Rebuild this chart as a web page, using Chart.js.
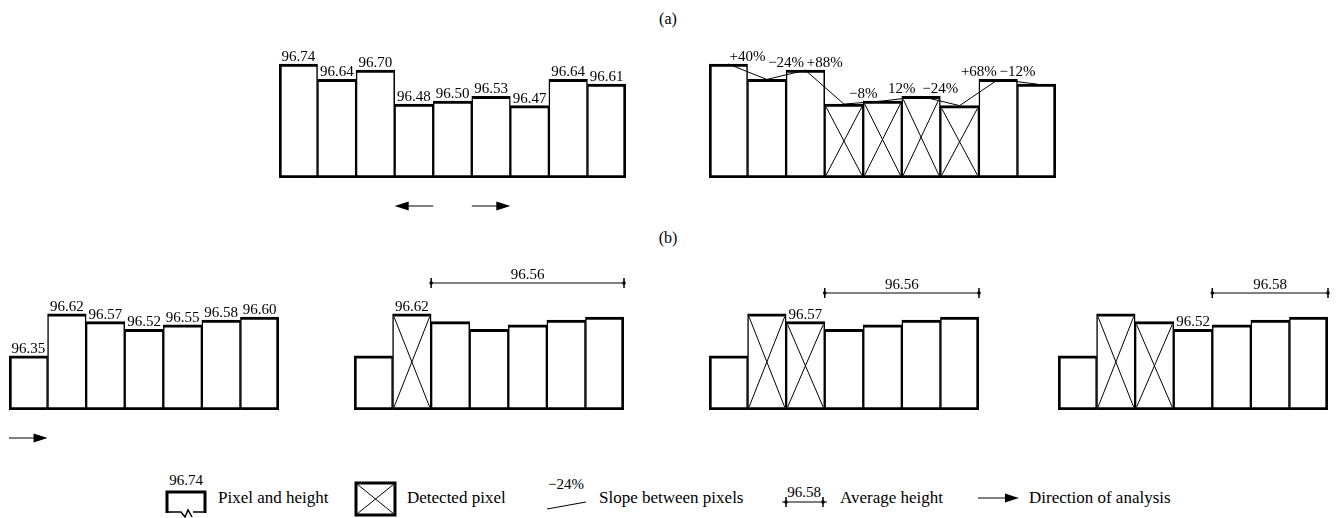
<!DOCTYPE html>
<html>
<head>
<meta charset="utf-8">
<script src="https://cdn.jsdelivr.net/npm/chart.js@4.4.0/dist/chart.umd.min.js"></script>
<style>
  html, body { margin: 0; padding: 0; background: #fff; }
  body { width: 1338px; height: 518px; position: relative; overflow: hidden; font-family: 'Liberation Serif', 'DejaVu Serif', serif; }
  canvas { position: absolute; }
  #deco { position: absolute; left: 0; top: 0; }
  #deco text { font-family: 'Liberation Serif', 'DejaVu Serif', serif; fill: #000; }
</style>
</head>
<body>
<svg id="deco" width="1338" height="518">
  <text x="668" y="24" text-anchor="middle" font-size="16">(a)</text>
  <text x="668" y="243" text-anchor="middle" font-size="16">(b)</text>

  <!-- legend -->
  <text x="186" y="485" text-anchor="middle" font-size="15">96.74</text>
  <path d="M167,513 L167,492 L205,492 L205,513" fill="none" stroke="#000" stroke-width="3"/>
  <path d="M167,512 L181,512 L185,517 L188,510 L192,517 M193,512 L205,512" fill="none" stroke="#000" stroke-width="1.5"/>
  <text x="218" y="503" font-size="17">Pixel and height</text>

  <rect x="356" y="483" width="39" height="32" fill="none" stroke="#000" stroke-width="3"/>
  <path d="M357,484 L394,514 M394,484 L357,514" stroke="#000" stroke-width="1"/>
  <text x="407" y="503" font-size="17">Detected pixel</text>

  <text x="566" y="489" text-anchor="middle" font-size="15">&#8722;24%</text>
  <path d="M547,509 L586,502" stroke="#000" stroke-width="1"/>
  <text x="599" y="503" font-size="17">Slope between pixels</text>

  <text x="804" y="497" text-anchor="middle" font-size="15">96.58</text>
  <path d="M782,502 L827,502" stroke="#000" stroke-width="1"/>
  <path d="M786,497 L786,507 M823,497 L823,507" stroke="#000" stroke-width="1.5"/>
  <circle cx="786" cy="502" r="1.8" fill="#000"/>
  <circle cx="823" cy="502" r="1.8" fill="#000"/>
  <text x="840" y="503" font-size="17">Average height</text>

  <path d="M978,498 L1006,498" stroke="#000" stroke-width="1"/>
  <path d="M1019,498 L1005,493.5 L1005,502.5 Z" fill="#000"/>
  <text x="1029" y="503" font-size="17">Direction of analysis</text>
</svg>
<script>
// (a) nine pixels along the profile
const pixelsA = ['1', '2', '3', '4', '5', '6', '7', '8', '9'];
const heightsA = [96.74, 96.64, 96.70, 96.48, 96.50, 96.53, 96.47, 96.64, 96.61];
const slopesA = ['+40%', '\u221224%', '+88%', '\u22128%', '12%', '\u221224%', '+68%', '\u221212%'];
const detectedA = [3, 4, 5, 6];

// (b) seven pixels, four analysis steps
const pixelsB = ['1', '2', '3', '4', '5', '6', '7'];
const heightsB = [96.35, 96.62, 96.57, 96.52, 96.55, 96.58, 96.60];
const detectedB = [[], [1], [1, 2], [1, 2]];
const currentB = [null, 1, 2, 3];
const averagesB = [null, 96.56, 96.56, 96.58];
const averageFromB = [null, 2, 3, 4];

const Y_MIN = 96.0;
const BAR_W = 38.5;
const FONT = '15px "Liberation Serif", "DejaVu Serif", serif';

function drawArrow(ctx, x1, x2, y) {
  const d = Math.sign(x2 - x1);
  ctx.lineWidth = 1;
  ctx.beginPath(); ctx.moveTo(x1, y); ctx.lineTo(x2 - d * 12, y); ctx.stroke();
  ctx.beginPath();
  ctx.moveTo(x2, y); ctx.lineTo(x2 - d * 14, y - 4.5); ctx.lineTo(x2 - d * 14, y + 4.5);
  ctx.closePath(); ctx.fill();
}

// extra marks: crosses, value / slope labels, average line, arrows
function sketch(cfg) {
  return {
    id: 'sketch',
    afterDatasetsDraw(chart) {
      const ctx = chart.ctx;
      const bars = chart.getDatasetMeta(0).data;
      const vals = chart.data.datasets[0].data;
      const area = chart.chartArea;
      ctx.save();
      ctx.strokeStyle = '#000';
      ctx.fillStyle = '#000';

      ctx.lineWidth = 1;
      (cfg.detected || []).forEach(i => {
        const b = bars[i];
        const l = b.x - b.width / 2 + 1.5, r = b.x + b.width / 2 - 1.5;
        const t = b.y + 3, bt = b.base - 3;
        ctx.beginPath();
        ctx.moveTo(l, t); ctx.lineTo(r, bt);
        ctx.moveTo(r, t); ctx.lineTo(l, bt);
        ctx.stroke();
      });

      ctx.font = FONT;
      ctx.textAlign = 'center';
      ctx.textBaseline = 'alphabetic';
      (cfg.labelled || []).forEach(i => {
        ctx.fillText(vals[i].toFixed(2), bars[i].x, bars[i].y - 3);
      });
      (cfg.slopes || []).forEach((s, i) => {
        const x = (bars[i].x + bars[i + 1].x) / 2;
        const y = Math.min(bars[i].y, bars[i + 1].y) - 3;
        ctx.fillText(s, x, y);
      });

      if (cfg.avg != null) {
        const a = bars[cfg.avgFrom], z = bars[bars.length - 1];
        const x1 = a.x - a.width / 2, x2 = z.x + z.width / 2;
        const y = area.top + cfg.avgOffset;
        ctx.lineWidth = 1;
        ctx.beginPath(); ctx.moveTo(x1, y); ctx.lineTo(x2, y); ctx.stroke();
        ctx.lineWidth = 1.5;
        [x1, x2].forEach(x => {
          ctx.beginPath(); ctx.moveTo(x, y - 5); ctx.lineTo(x, y + 5); ctx.stroke();
          ctx.beginPath(); ctx.arc(x, y, 1.8, 0, Math.PI * 2); ctx.fill();
        });
        ctx.fillText(cfg.avg.toFixed(2), (x1 + x2) / 2, y - 4);
      }

      (cfg.arrows || []).forEach(ar => {
        const b = bars[ar.index];
        const l = b.x - b.width / 2, r = b.x + b.width / 2;
        const y = area.bottom + 28;
        if (ar.dir < 0) drawArrow(ctx, r, l, y); else drawArrow(ctx, l, r, y);
      });
      ctx.restore();
    }
  };
}

function makePanel(left, bottom, ppu, labels, values, cfg) {
  const padT = 34, padB = 40, padX = 6;
  const areaH = Math.round(0.9 * ppu);
  const yMax = Y_MIN + areaH / ppu;
  const n = labels.length;
  const w = Math.round(n * BAR_W) + 2 * padX;
  const cv = document.createElement('canvas');
  cv.width = w;
  cv.height = padT + areaH + padB;
  cv.style.left = (left - padX) + 'px';
  cv.style.top = (bottom - areaH - padT) + 'px';
  document.body.appendChild(cv);

  const datasets = [{
    type: 'bar',
    data: values,
    base: Y_MIN,
    backgroundColor: '#fff',
    borderColor: '#000',
    borderWidth: c => ({
      top: 3,
      bottom: 3,
      left: c.dataIndex === 0 ? 3 : 1.5,
      right: c.dataIndex === n - 1 ? 3 : 1.5
    }),
    borderSkipped: false,
    categoryPercentage: 1,
    barPercentage: 1,
    order: 1
  }];
  if (cfg.slopes) {
    datasets.push({
      type: 'line',
      data: values,
      borderColor: '#000',
      borderWidth: 1,
      pointRadius: 0,
      tension: 0,
      order: 0
    });
  }

  new Chart(cv, {
    type: 'bar',
    data: { labels: labels, datasets: datasets },
    options: {
      responsive: false,
      animation: false,
      events: [],
      layout: { padding: { top: padT, bottom: padB, left: padX, right: padX } },
      scales: {
        x: { display: false },
        y: { display: false, min: Y_MIN, max: yMax }
      },
      plugins: { legend: { display: false }, tooltip: { enabled: false } }
    },
    plugins: [sketch(cfg)]
  });
}

// (a)
makePanel(279, 178, 154, pixelsA, heightsA, {
  labelled: pixelsA.map((p, i) => i),
  arrows: [{ index: 3, dir: -1 }, { index: 5, dir: 1 }]
});
makePanel(709, 178, 154, pixelsA, heightsA, {
  detected: detectedA,
  slopes: slopesA
});

// (b)
const leftsB = [9, 354, 709, 1058];
const avgOffsetsB = [0, 13, 23, 23];
leftsB.forEach((left, k) => {
  makePanel(left, 410, 155, pixelsB, heightsB, {
    detected: detectedB[k],
    labelled: k === 0 ? pixelsB.map((p, i) => i) : [currentB[k]],
    avg: averagesB[k],
    avgFrom: averageFromB[k],
    avgOffset: avgOffsetsB[k],
    arrows: k === 0 ? [{ index: 0, dir: 1 }] : []
  });
});
</script>
</body>
</html>
